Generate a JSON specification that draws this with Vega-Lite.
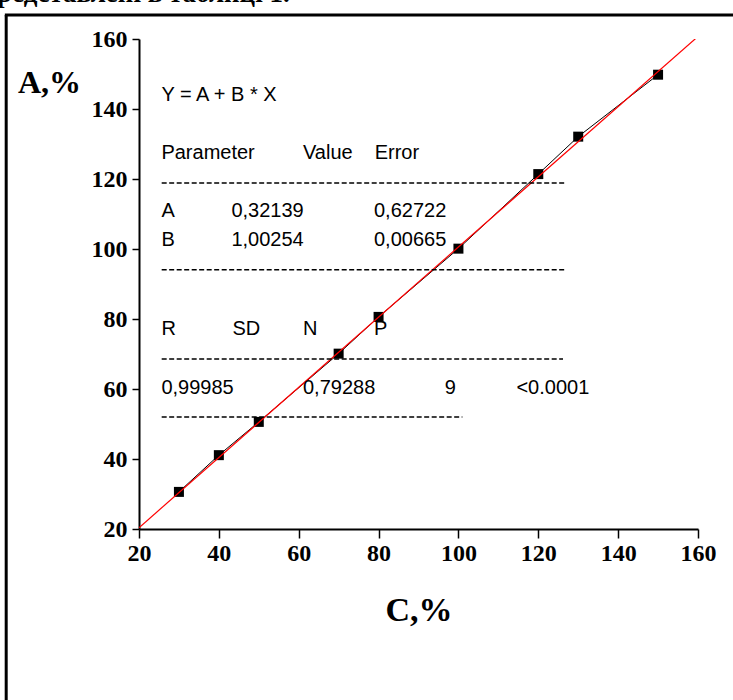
{
  "$schema": "https://vega.github.io/schema/vega-lite/v6.json",
  "autosize": {"type": "none"},
  "padding": {"left": 139, "top": 39, "right": 35, "bottom": 171},
  "width": 559,
  "height": 490,
  "background": "white",
  "config": {
    "view": {"stroke": null},
    "axis": {
      "grid": false,
      "domainColor": "black",
      "domainWidth": 2,
      "tickColor": "black",
      "tickWidth": 1.5,
      "labelFont": "Liberation Serif",
      "labelFontWeight": "bold",
      "labelFontSize": 24,
      "labelColor": "black",
      "labelPadding": 4,
      "labelOverlap": false,
      "titleFont": "Liberation Serif",
      "titleFontWeight": "bold",
      "titleColor": "black"
    }
  },
  "datasets": {
    "points": [
      {"x": 30, "y": 30.6},
      {"x": 40, "y": 41.1},
      {"x": 50, "y": 50.6},
      {"x": 70, "y": 70.1},
      {"x": 80, "y": 80.6},
      {"x": 100, "y": 100.1},
      {"x": 120, "y": 121.4},
      {"x": 130, "y": 132.1},
      {"x": 150, "y": 149.8}
    ],
    "fit": [
      {"x": 20, "y": 20.37},
      {"x": 160, "y": 160.73}
    ],
    "notes": [
      {"x": 25.61, "y": 144.09, "t": "Y = A + B * X"},
      {"x": 25.61, "y": 127.43, "t": "Parameter"},
      {"x": 61.07, "y": 127.43, "t": "Value"},
      {"x": 79.03, "y": 127.43, "t": "Error"},
      {"x": 25.61, "y": 110.74, "t": "A"},
      {"x": 43.14, "y": 110.74, "t": "0,32139"},
      {"x": 78.85, "y": 110.74, "t": "0,62722"},
      {"x": 25.61, "y": 102.66, "t": "B"},
      {"x": 43.14, "y": 102.66, "t": "1,00254"},
      {"x": 78.85, "y": 102.66, "t": "0,00665"},
      {"x": 25.61, "y": 77.14, "t": "R"},
      {"x": 43.39, "y": 77.14, "t": "SD"},
      {"x": 61.07, "y": 77.14, "t": "N"},
      {"x": 78.85, "y": 77.14, "t": "P"},
      {"x": 25.61, "y": 60.29, "t": "0,99985"},
      {"x": 61.07, "y": 60.29, "t": "0,79288"},
      {"x": 96.56, "y": 60.29, "t": "9"},
      {"x": 114.52, "y": 60.29, "t": "<0.0001"}
    ],
    "dashes": [
      {"x": 25.68, "x2": 126.6, "y": 118.86},
      {"x": 25.68, "x2": 126.6, "y": 94.09},
      {"x": 25.68, "x2": 126.19, "y": 68.57},
      {"x": 25.68, "x2": 100.99, "y": 52}
    ],
    "frameV": [
      {"x": -13.26, "y": 166.89, "y2": -40}
    ],
    "frameH": [
      {"x": -13.6, "x2": 175, "y": 166.89}
    ],
    "caption": [
      {"x": 57.74, "y": 170.7, "t": "представлені в таблиці 1."}
    ]
  },
  "layer": [
    {
      "data": {"name": "points"},
      "mark": {"type": "line", "color": "black", "strokeWidth": 1},
      "encoding": {
        "x": {
          "field": "x",
          "type": "quantitative",
          "scale": {"domain": [20, 160], "nice": false, "zero": false},
          "axis": {
            "title": "C,%",
            "values": [20, 30, 40, 50, 60, 70, 80, 90, 100, 110, 120, 130, 140, 150, 160],
            "labelExpr": "datum.value % 20 === 0 ? datum.label : ''",
            "tickSize": {"condition": {"test": "datum.value % 20 === 0", "value": 9}, "value": 5},
            "labelFlush": false,
            "labelPadding": 3,
            "titleFontSize": 34,
            "titlePadding": 28
          }
        },
        "y": {
          "field": "y",
          "type": "quantitative",
          "scale": {"domain": [20, 160], "nice": false, "zero": false},
          "axis": {
            "title": "A,%",
            "values": [20, 30, 40, 50, 60, 70, 80, 90, 100, 110, 120, 130, 140, 150, 160],
            "labelExpr": "datum.value % 20 === 0 ? datum.label : ''",
            "tickSize": {"condition": {"test": "datum.value % 20 === 0", "value": 7}, "value": 4},
            "labelPadding": 5,
            "titleAngle": 0,
            "titleAlign": "center",
            "titleBaseline": "alphabetic",
            "titleX": -90,
            "titleY": 53,
            "titleFontSize": 32
          }
        }
      }
    },
    {
      "data": {"name": "points"},
      "mark": {"type": "point", "shape": "square", "filled": true, "color": "black", "opacity": 1, "size": 100},
      "encoding": {
        "x": {"field": "x", "type": "quantitative"},
        "y": {"field": "y", "type": "quantitative"}
      }
    },
    {
      "data": {"name": "fit"},
      "mark": {"type": "line", "color": "#ff0000", "strokeWidth": 1.2, "clip": true},
      "encoding": {
        "x": {"field": "x", "type": "quantitative"},
        "y": {"field": "y", "type": "quantitative"}
      }
    },
    {
      "data": {"name": "dashes"},
      "mark": {"type": "rule", "color": "black", "strokeWidth": 1.6, "strokeDash": [5, 2.5]},
      "encoding": {
        "x": {"field": "x", "type": "quantitative"},
        "x2": {"field": "x2"},
        "y": {"field": "y", "type": "quantitative"}
      }
    },
    {
      "data": {"name": "notes"},
      "mark": {"type": "text", "align": "left", "baseline": "middle", "font": "Liberation Sans", "fontSize": 20, "color": "black"},
      "encoding": {
        "x": {"field": "x", "type": "quantitative"},
        "y": {"field": "y", "type": "quantitative"},
        "text": {"field": "t"}
      }
    },
    {
      "data": {"name": "frameV"},
      "mark": {"type": "rule", "color": "black", "strokeWidth": 3, "clip": false},
      "encoding": {
        "x": {"field": "x", "type": "quantitative"},
        "y": {"field": "y", "type": "quantitative"},
        "y2": {"field": "y2"}
      }
    },
    {
      "data": {"name": "frameH"},
      "mark": {"type": "rule", "color": "black", "strokeWidth": 3, "clip": false},
      "encoding": {
        "x": {"field": "x", "type": "quantitative"},
        "x2": {"field": "x2"},
        "y": {"field": "y", "type": "quantitative"}
      }
    },
    {
      "data": {"name": "caption"},
      "mark": {"type": "text", "align": "right", "baseline": "alphabetic", "font": "Liberation Serif", "fontWeight": "bold", "fontSize": 27, "color": "black"},
      "encoding": {
        "x": {"field": "x", "type": "quantitative"},
        "y": {"field": "y", "type": "quantitative"},
        "text": {"field": "t"}
      }
    }
  ]
}
